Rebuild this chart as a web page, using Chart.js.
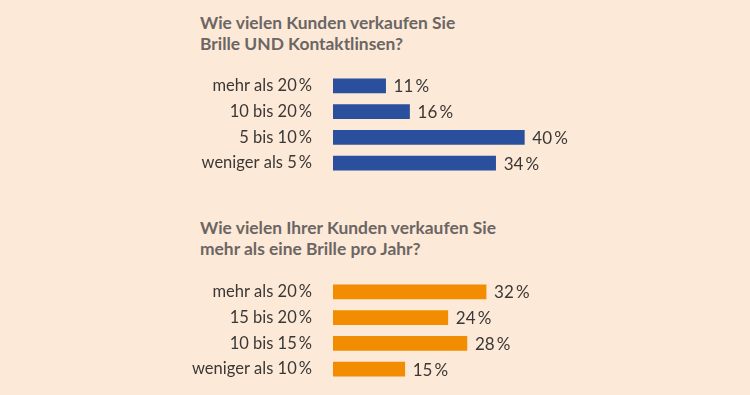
<!DOCTYPE html>
<html>
<head>
<meta charset="utf-8">
<script src="https://cdn.jsdelivr.net/npm/chart.js@4"></script>
<style>
  html, body { margin: 0; padding: 0; }
  body { width: 750px; height: 395px; background: #fde9d8; position: relative; overflow: hidden; font-family: Lato, sans-serif; }
  .frage { position: absolute; left: 200px; font-weight: bold; font-size: 17.4px; line-height: 21px; color: #6b6663; }
  canvas { position: absolute; left: 0; display: block; }
</style>
</head>
<body>
<div class="frage" id="frage1" style="top:12px"></div>
<canvas id="chart1" width="750" height="200" style="top:0"></canvas>
<div class="frage" id="frage2" style="top:217px"></div>
<canvas id="chart2" width="750" height="195" style="top:200px"></canvas>
<script>
// Daten
const frage1 = ['Wie vielen Kunden verkaufen Sie', 'Brille UND Kontaktlinsen?'];
const kategorien1 = ['mehr als 20\u2009%', '10 bis 20\u2009%', '5 bis 10\u2009%', 'weniger als 5\u2009%'];
const werte1 = [11, 16, 40, 34];

const frage2 = ['Wie vielen Ihrer Kunden verkaufen Sie', 'mehr als eine Brille pro Jahr?'];
const kategorien2 = ['mehr als 20\u2009%', '15 bis 20\u2009%', '10 bis 15\u2009%', 'weniger als 10\u2009%'];
const werte2 = [32, 24, 28, 15];

document.getElementById('frage1').innerHTML = frage1.join('<br>');
document.getElementById('frage2').innerHTML = frage2.join('<br>');

// Werte rechts neben den Balken
const wertLabels = {
  id: 'wertLabels',
  afterDatasetsDraw(chart) {
    const ctx = chart.ctx;
    ctx.save();
    ctx.font = '17px Lato, sans-serif';
    ctx.fillStyle = '#3a3836';
    ctx.textBaseline = 'middle';
    ctx.textAlign = 'left';
    chart.getDatasetMeta(0).data.forEach((bar, i) => {
      ctx.fillText(chart.data.datasets[0].data[i] + '\u2009%', bar.x + 8, bar.y + 1);
    });
    ctx.restore();
  }
};

function balkenChart(id, labels, data, farbe, padTop, padBottom) {
  return new Chart(document.getElementById(id), {
    type: 'bar',
    data: {
      labels,
      datasets: [{ data, backgroundColor: farbe, barThickness: 14 }]
    },
    options: {
      indexAxis: 'y',
      responsive: false,
      animation: false,
      layout: { padding: { top: padTop, bottom: padBottom, left: 0, right: 130 } },
      plugins: { legend: { display: false }, tooltip: { enabled: false } },
      scales: {
        x: { display: false, min: 0, max: 60 },
        y: {
          grid: { display: false },
          border: { display: false },
          ticks: { color: '#3a3836', font: { family: 'Lato, sans-serif', size: 16.5 }, padding: 13 },
          afterFit(scale) {
            scale.width = 333;
            // keine Extra-Abstände oben/unten, damit die Zeilen gleichmäßig bleiben
            scale.paddingTop = 0;
            scale.paddingBottom = 0;
          }
        }
      }
    },
    plugins: [wertLabels]
  });
}

balkenChart('chart1', kategorien1, werte1, '#2a4f9c', 73, 24);
balkenChart('chart2', kategorien2, werte2, '#f28c00', 79, 13);
</script>
</body>
</html>
